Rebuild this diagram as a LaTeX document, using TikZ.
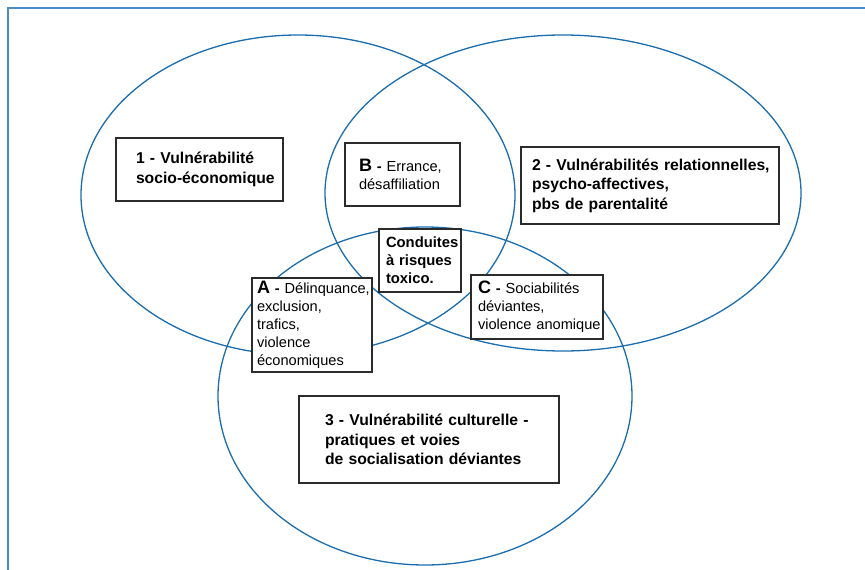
\documentclass[tikz,border=0pt]{standalone}
\usepackage{fontspec}
\setmainfont{Liberation Sans}
\usetikzlibrary{positioning}
\definecolor{cblue}{HTML}{1B6DAE}
\definecolor{cframe}{HTML}{4A8DC4}
\definecolor{cdark}{HTML}{2B2B2B}
\hyphenpenalty=10000
\exhyphenpenalty=10000
\newcommand{\capletter}[1]{{\fontsize{18}{18}\selectfont\bfseries #1}}
\tikzset{
  every picture/.style={x=1pt, y=-1pt},
  ring/.style={draw=cblue, line width=1.3pt},
  frame/.style={draw=cframe, line width=1.6pt},
  vbox/.style={draw=cdark, fill=white, line width=1.3pt, align=left, inner ysep=0pt, font=\fontsize{14.6}{18}\selectfont},
  vbold/.style={vbox, font=\fontsize{15.7}{19.5}\selectfont\bfseries},
}

\begin{document}
\begin{tikzpicture}
  \useasboundingbox (0,0) rectangle (865,570);
  % frame, open on the right and at the bottom
  \draw[frame] (865,8) -- (8,8) -- (8,570);
  % the three vulnerability fields
  \foreach \cx/\cy/\rx/\ry in {298/195/217pt/160pt, 563/193/238pt/158pt, 425/396/207pt/169pt}
    \draw[ring] (\cx,\cy) ellipse [x radius=\rx, y radius=\ry];
  % main fields
  \node[vbold, minimum width=167pt, minimum height=63pt, text width=127pt, inner xsep=20pt] (socio) at (199.5,169.5) {1~-~Vulnérabilité\\socio-économique};
  \node[vbold, minimum width=258pt, minimum height=77pt, text width=236pt, inner xsep=11pt] (relat) at (650,185.5) {2~-~Vulnérabilités~relationnelles,\\psycho-affectives,\\pbs~de~parentalité};
  \node[vbold, minimum width=260pt, minimum height=87pt, text width=208pt, inner xsep=26pt] (cult) at (429,439.5) {3~-~Vulnérabilité~culturelle~-\\pratiques~et~voies\\de~socialisation~déviantes};
  % overlaps
  \node[vbox, minimum width=115pt, minimum height=63pt, text width=87pt, inner xsep=14pt] (errance) at (402.5,174.5) {\capletter{B}~\textbf{-}~Errance,\\désaffiliation};
  \node[vbox, minimum width=120pt, minimum height=94pt, text width=110pt, inner xsep=5pt] (delinq) at (312,325) {\capletter{A}~\textbf{-}~Délinquance,\\exclusion,\\trafics,\\violence\\économiques};
  \node[vbox, minimum width=132pt, minimum height=64pt, text width=118pt, inner xsep=7pt] (sociab) at (537,307) {\capletter{C}~\textbf{-}~Sociabilités\\déviantes,\\violence~anomique};
  \node[vbold, minimum width=82pt, minimum height=63pt, text width=68pt, inner xsep=7pt, font=\fontsize{14.8}{18}\selectfont\bfseries] (toxico) at (420,260.5) {Conduites\\à~risques\\toxico.};
\end{tikzpicture}
\end{document}
